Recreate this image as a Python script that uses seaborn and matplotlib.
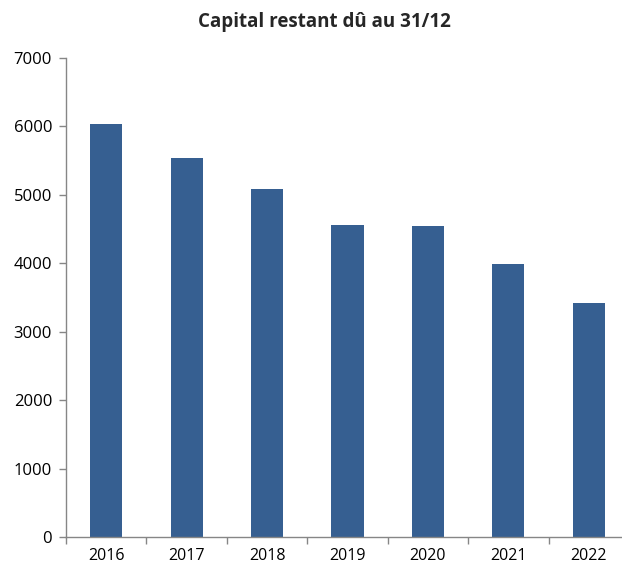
import numpy as np
import pandas as pd
import seaborn as sns
import matplotlib.pyplot as plt

# Values
years = ["2016", "2017", "2018", "2019", "2020", "2021", "2022"]
capital = [6035, 5540, 5085, 4560, 4545, 3990, 3420]
y_ticks = [0, 1000, 2000, 3000, 4000, 5000, 6000, 7000]

BAR_COLOR = "#365F91"
AXIS_COLOR = "#868686"

sns.set_style("white")
plt.rcParams["font.family"] = ["Open Sans", "DejaVu Sans"]

df = pd.DataFrame({"Année": years, "Capital": capital})

fig = plt.figure(figsize=(6.22, 5.65), dpi=100)
ax = fig.add_axes([66 / 622, 28 / 565, 563 / 622, 479 / 565])

sns.barplot(data=df, x="Année", y="Capital", color=BAR_COLOR, width=0.4,
            saturation=1, linewidth=0, ax=ax)

ax.set_xlim(-0.5, len(years) - 0.5)
ax.set_ylim(0, 7000)
ax.set_yticks(y_ticks)
ax.set_xlabel("")
ax.set_ylabel("")

# tick marks between categories, labels centred under bars
ax.set_xticks(np.arange(len(years) + 1) - 0.5, minor=True)
ax.tick_params(axis="x", which="major", length=0, labelsize=11.5, pad=8,
               colors="black")
ax.tick_params(axis="x", which="minor", length=5, width=1, color=AXIS_COLOR,
               direction="out", bottom=True)
ax.tick_params(axis="y", length=5, width=1, color=AXIS_COLOR, direction="out",
               labelsize=12, labelcolor="black", left=True, pad=5)

for side in ["top", "right"]:
    ax.spines[side].set_visible(False)
for side in ["left", "bottom"]:
    ax.spines[side].set_color(AXIS_COLOR)
    ax.spines[side].set_linewidth(1)

fig.text(324 / 622, 1 - 22 / 565, "Capital restant dû au 31/12",
         ha="center", va="center", fontsize=13.5, fontweight="bold")

fig.savefig("out.png", dpi=100)
